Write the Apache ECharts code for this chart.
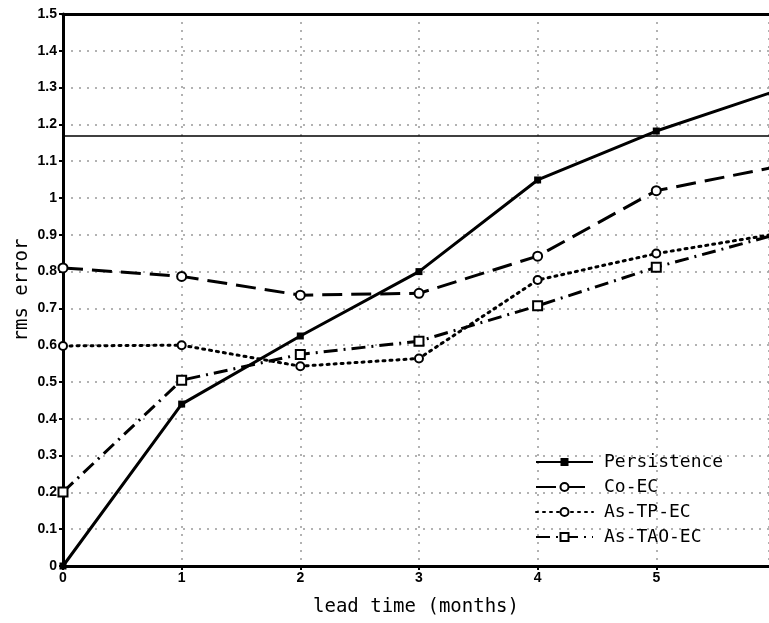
<!DOCTYPE html>
<html lang="en">
<head>
    <meta charset="UTF-8">
    <title>rms error</title>
    <script src="https://cdn.jsdelivr.net/npm/echarts@6/dist/echarts.min.js"></script>
</head>
<body style="margin:0;">
  <div id="chart" style="width:769px; height:623px;"></div>
  <script>
    // lead time (months)
    var leadTimes = [0, 1, 2, 3, 4, 5, 6];
    var persistence = [0, 0.44, 0.625, 0.80, 1.049, 1.182, 1.29];
    var coEC = [0.81, 0.787, 0.736, 0.741, 0.842, 1.02, 1.084];
    var asTPEC = [0.598, 0.60, 0.543, 0.564, 0.777, 0.849, 0.902];
    var asTAOEC = [0.201, 0.505, 0.575, 0.611, 0.707, 0.812, 0.90];
    var refLine = 1.173;
    var names = ["Persistence", "Co-EC", "As-TP-EC", "As-TAO-EC"];

    // pair x with y, last point has no marker (it sits past the frame)
    function pairs(vals) {
        return vals.map(function (v, i) {
            var item = { value: [leadTimes[i], v] };
            if (i == vals.length - 1) item.symbol = "none";
            return item;
        });
    }

    var textFont = "DejaVu Sans Mono";
    var tickFont = "Liberation Sans";
    var gridDots = { color: "#999", type: [2, 6], width: 1.5 };
    var myChart = echarts.init(document.getElementById("chart"));
    var option = {
        animation: false,
        backgroundColor: "#fff",
        grid: { left: 63, right: 0, top: 14, bottom: 57, outerBoundsMode: "none", containLabel: false },
        legend: {
            orient: "vertical",
            left: 530, top: 448,
            itemWidth: 57, itemHeight: 10, itemGap: 7,
            data: names,
            textStyle: { fontFamily: textFont, fontSize: 18, color: "#000", padding: [0, 0, 0, 6] }
        },
        xAxis: [{
            type: "value",
            min: 0, max: 5.95, interval: 1,
            name: "lead time (months)",
            nameLocation: "middle",
            nameGap: 32,
            nameTextStyle: { fontFamily: textFont, fontSize: 19, color: "#000" },
            axisLine: { onZero: false, lineStyle: { color: "#000", width: 3 } },
            axisTick: { length: 4, lineStyle: { color: "#000", width: 2 } },
            axisLabel: { showMaxLabel: false, fontFamily: tickFont, fontWeight: "bold", fontSize: 14, color: "#000", margin: 5 },
            splitLine: { lineStyle: gridDots }
        }, {
            // top frame line
            type: "value", position: "top",
            min: 0, max: 5.95,
            axisLine: { onZero: false, lineStyle: { color: "#000", width: 3 } },
            axisTick: { show: false }, axisLabel: { show: false }, splitLine: { show: false }
        }],
        yAxis: {
            type: "value",
            min: 0, max: 1.5, interval: 0.1,
            name: "rms error",
            nameLocation: "middle",
            nameGap: 31,
            nameMoveOverlap: false,
            nameTextStyle: { fontFamily: textFont, fontSize: 19, color: "#000" },
            axisLine: { show: true, onZero: false, lineStyle: { color: "#000", width: 3 } },
            axisTick: { show: true, length: 4, lineStyle: { color: "#000", width: 2 } },
            axisLabel: {
                fontFamily: tickFont, fontWeight: "bold", fontSize: 14, color: "#000", margin: 6,
                formatter: function (v) { return String(Math.round(v * 10) / 10); }
            },
            splitLine: { lineStyle: gridDots }
        },
        series: [
            {
                name: names[0], type: "line", data: pairs(persistence),
                symbol: "rect", symbolSize: 7,
                itemStyle: { color: "#000" },
                lineStyle: { color: "#000", width: 3 },
                markLine: {
                    silent: true, symbol: "none", label: { show: false },
                    lineStyle: { color: "#000", width: 1.5, type: "solid" },
                    data: [{ yAxis: refLine }]
                }
            },
            {
                name: names[1], type: "line", data: pairs(coEC),
                symbol: "emptyCircle", symbolSize: 9,
                itemStyle: { color: "#000", borderWidth: 3 },
                lineStyle: { color: "#000", width: 3, type: [20, 9] }
            },
            {
                name: names[2], type: "line", data: pairs(asTPEC),
                symbol: "emptyCircle", symbolSize: 8,
                itemStyle: { color: "#000", borderWidth: 3 },
                lineStyle: { color: "#000", width: 3, type: [2, 5], cap: "round" }
            },
            {
                name: names[3], type: "line", data: pairs(asTAOEC),
                symbol: "emptyRect", symbolSize: 9,
                itemStyle: { color: "#000", borderWidth: 3 },
                lineStyle: { color: "#000", width: 3, type: [14, 6, 2, 6] }
            }
        ]
    };
    myChart.setOption(option);
  </script>
</body>
</html>
